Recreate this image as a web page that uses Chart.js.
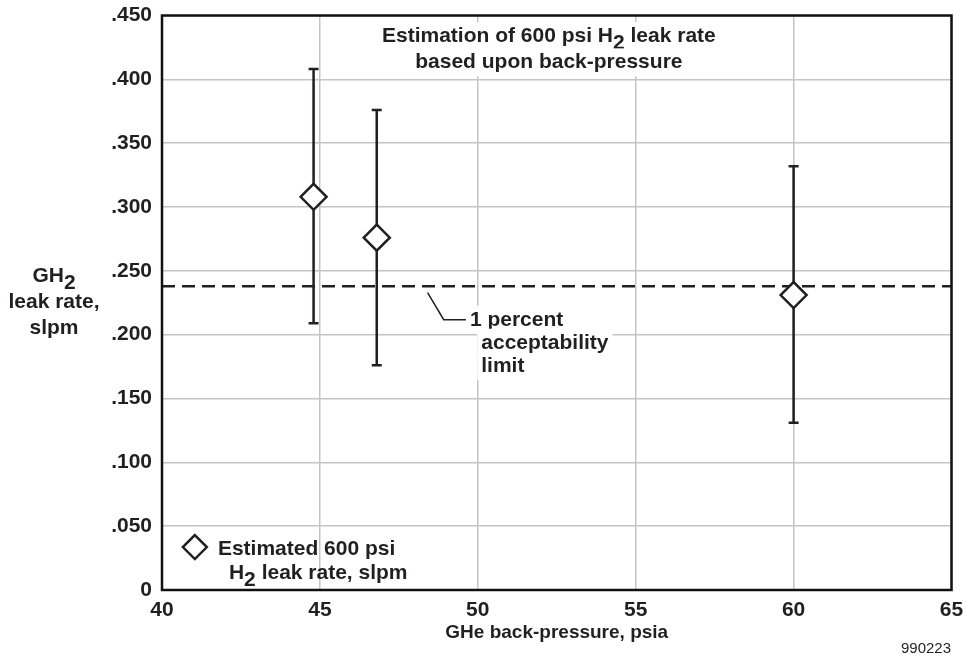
<!DOCTYPE html>
<html>
<head>
<meta charset="utf-8">
<script src="https://cdn.jsdelivr.net/npm/chart.js@4.4.0/dist/chart.umd.min.js"></script>
<style>
  html, body { margin: 0; padding: 0; background: #fff; }
</style>
</head>
<body>
<canvas id="chart" width="967" height="662"></canvas>
<script>
// Dados
const pressure = [44.8, 46.8, 60];          // GHe back-pressure, psia
const leakRate = [0.308, 0.276, 0.231];     // GH2 leak rate, slpm
const errHigh = [0.408, 0.376, 0.332];
const errLow = [0.209, 0.176, 0.131];
const limitX = [40, 65];
const limitY = [0.238, 0.238];              // 1 percent acceptability limit
const xTicks = ['40', '45', '50', '55', '60', '65'];
const yTicks = ['0', '.050', '.100', '.150', '.200', '.250', '.300', '.350', '.400', '.450'];

const INK = '#231f20';
const FONT = "'Liberation Sans', Arial, Helvetica, sans-serif";
const FS = 21;

Chart.defaults.font.family = FONT;
Chart.defaults.font.size = FS;
Chart.defaults.font.weight = 'bold';
Chart.defaults.color = INK;

// texto com subscrito: parts = [[texto, ehSub], ...]
function richText(ctx, parts, x, y, align, box) {
  let w = 0;
  parts.forEach(p => w += ctx.measureText(p[0]).width);
  let cx = align === 'center' ? x - w / 2 : x;
  if (box) {
    ctx.fillStyle = '#fff';
    ctx.fillRect(cx - 4, y - 20, w + 8, 28);
    ctx.fillStyle = INK;
  }
  parts.forEach(p => {
    ctx.fillText(p[0], cx, p[1] ? y + 7 : y);
    cx += ctx.measureText(p[0]).width;
  });
}

function diamond(ctx, x, y, r) {
  ctx.beginPath();
  ctx.moveTo(x, y - r);
  ctx.lineTo(x + r, y);
  ctx.lineTo(x, y + r);
  ctx.lineTo(x - r, y);
  ctx.closePath();
  ctx.fillStyle = '#fff';
  ctx.fill();
  ctx.lineWidth = 2.5;
  ctx.strokeStyle = INK;
  ctx.stroke();
}

// Barras de erro (desenhadas antes dos losangos)
const errorBars = {
  id: 'errorBars',
  beforeDatasetsDraw(chart) {
    const { ctx, scales: { x, y } } = chart;
    ctx.save();
    ctx.strokeStyle = INK;
    ctx.lineWidth = 2.5;
    pressure.forEach((p, i) => {
      const px = x.getPixelForValue(p);
      const top = y.getPixelForValue(errHigh[i]);
      const bot = y.getPixelForValue(errLow[i]);
      ctx.beginPath();
      ctx.moveTo(px, top);
      ctx.lineTo(px, bot);
      ctx.moveTo(px - 5, top);
      ctx.lineTo(px + 5, top);
      ctx.moveTo(px - 5, bot);
      ctx.lineTo(px + 5, bot);
      ctx.stroke();
    });
    ctx.restore();
  }
};

// Títulos, anotação, legenda e moldura
const labels = {
  id: 'labels',
  afterDraw(chart) {
    const { ctx, chartArea: a, scales: { x, y } } = chart;
    ctx.save();
    ctx.font = 'bold ' + FS + 'px ' + FONT;
    ctx.textBaseline = 'alphabetic';
    ctx.fillStyle = INK;

    // título dentro do gráfico
    const tx = x.getPixelForValue(52.25);
    richText(ctx, [['Estimation of 600 psi H', false], ['2', true], [' leak rate', false]], tx, y.getPixelForValue(0.4291), 'center', true);
    richText(ctx, [['based upon back-pressure', false]], tx, y.getPixelForValue(0.4086), 'center', true);

    // linha guia do limite
    ctx.strokeStyle = INK;
    ctx.lineWidth = 1.5;
    ctx.beginPath();
    ctx.moveTo(x.getPixelForValue(48.41), y.getPixelForValue(0.233));
    ctx.lineTo(x.getPixelForValue(48.92), y.getPixelForValue(0.2117));
    ctx.lineTo(x.getPixelForValue(49.64), y.getPixelForValue(0.2117));
    ctx.stroke();
    richText(ctx, [['1 percent', false]], x.getPixelForValue(49.75), y.getPixelForValue(0.207), 'left', true);
    richText(ctx, [['acceptability', false]], x.getPixelForValue(50.11), y.getPixelForValue(0.189), 'left', true);
    richText(ctx, [['limit', false]], x.getPixelForValue(50.11), y.getPixelForValue(0.1705), 'left', true);

    // legenda
    diamond(ctx, x.getPixelForValue(41.04), y.getPixelForValue(0.0336), 12);
    ctx.fillStyle = INK;
    richText(ctx, [['Estimated 600 psi', false]], x.getPixelForValue(41.77), y.getPixelForValue(0.0273), 'left');
    richText(ctx, [['H', false], ['2', true], [' leak rate, slpm', false]], x.getPixelForValue(42.12), y.getPixelForValue(0.0086), 'left');

    // título do eixo y (horizontal)
    richText(ctx, [['GH', false], ['2', true]], 54, 282, 'center');
    richText(ctx, [['leak rate,', false]], 54, 308, 'center');
    richText(ctx, [['slpm', false]], 54, 334, 'center');

    // número da figura
    ctx.font = '15px ' + FONT;
    ctx.textAlign = 'right';
    ctx.fillText('990223', 951, 653);

    // moldura
    ctx.strokeStyle = '#111';
    ctx.lineWidth = 2.5;
    ctx.strokeRect(a.left, a.top, a.right - a.left, a.bottom - a.top);
    ctx.restore();
  }
};

new Chart(document.getElementById('chart'), {
  type: 'scatter',
  data: {
    datasets: [
      {
        label: 'Estimated 600 psi H2 leak rate, slpm',
        data: pressure.map((p, i) => ({ x: p, y: leakRate[i] })),
        pointStyle: 'rectRot',
        pointRadius: 13,
        pointHoverRadius: 13,
        pointBorderWidth: 2.5,
        borderColor: INK,
        backgroundColor: '#fff',
        order: 1
      },
      {
        type: 'line',
        label: '1 percent acceptability limit',
        data: limitX.map((v, i) => ({ x: v, y: limitY[i] })),
        borderColor: INK,
        borderWidth: 2.5,
        borderDash: [13, 7],
        pointRadius: 0,
        fill: false,
        order: 2
      }
    ]
  },
  options: {
    responsive: false,
    animation: false,
    events: [],
    layout: { padding: { left: 0, top: 14, right: 15, bottom: 0 } },
    plugins: {
      legend: { display: false },
      tooltip: { enabled: false }
    },
    scales: {
      x: {
        type: 'linear',
        min: 40,
        max: 65,
        afterFit: s => { s.height = 72; s.paddingLeft = 0; s.paddingRight = 0; },
        ticks: { stepSize: 5, padding: 8, callback: (v, i) => xTicks[i] },
        grid: { color: '#c4c4c4', lineWidth: 1.5, drawTicks: false },
        border: { display: false },
        title: {
          display: true,
          text: 'GHe back-pressure, psia',
          font: { size: 19, weight: 'bold' },
          padding: { top: 0, bottom: 18 }
        }
      },
      y: {
        min: 0,
        max: 0.45,
        afterFit: s => { s.width = 162; s.paddingTop = 0; s.paddingBottom = 0; },
        ticks: { stepSize: 0.05, padding: 10, callback: (v, i) => yTicks[i] },
        grid: { color: '#c4c4c4', lineWidth: 1.5, drawTicks: false },
        border: { display: false }
      }
    }
  },
  plugins: [errorBars, labels]
});
</script>
</body>
</html>
